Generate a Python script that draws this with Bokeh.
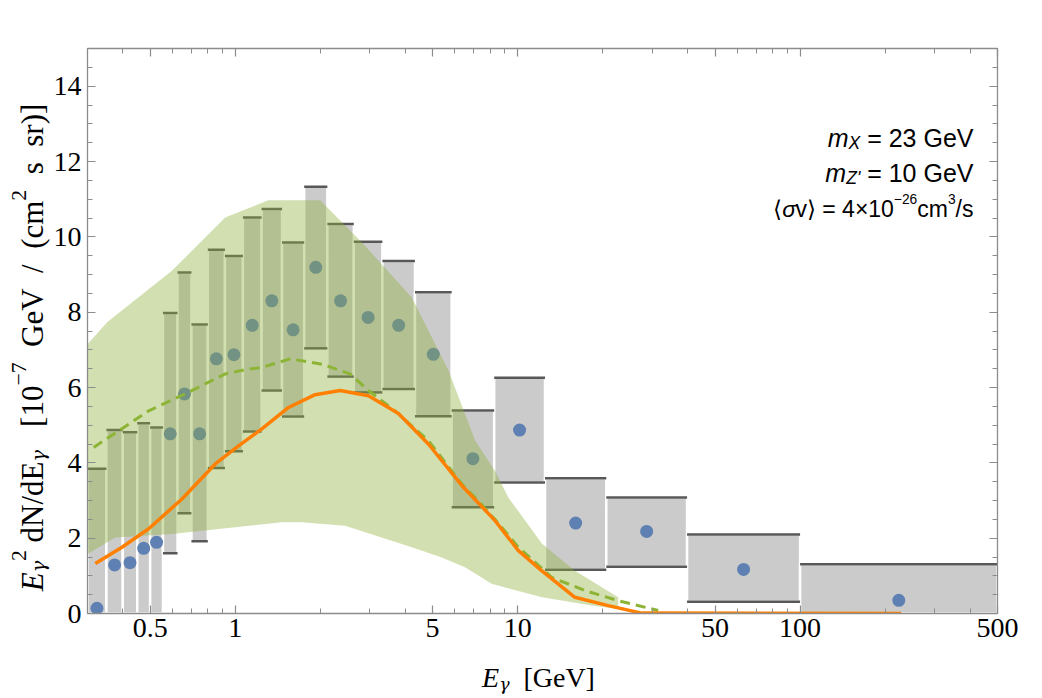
import math
from bokeh.plotting import figure
from bokeh.layouts import row, column
from bokeh.models import (FixedTicker, LogAxis, LinearAxis, Label, CustomJSTickFormatter)
from bokeh.embed import file_html
from bokeh.resources import INLINE

# ---------------- data ----------------
bin_edges = [0.30, 0.35, 0.40, 0.45, 0.50, 0.555, 0.625, 0.70, 0.80, 0.92, 1.065, 1.24,
             1.465, 1.755, 2.12, 2.63, 3.32, 4.33, 5.84, 8.26, 12.5, 20.6, 39.8, 100.0, 500.0]
flux = [0.14, 1.29, 1.35, 1.73, 1.89, 4.77, 5.83, 4.77, 6.76, 6.87, 7.65, 8.30,
        7.53, 9.19, 8.30, 7.86, 7.65, 6.88, 4.11, 4.87, 2.40, 2.18, 1.17, 0.35]
flux_hi = [3.84, 4.87, 4.81, 5.05, 4.94, 7.98, 9.05, 7.67, 9.66, 9.49, 10.51, 10.74,
           9.85, 11.33, 10.34, 9.87, 9.36, 8.53, 5.39, 6.26, 3.59, 3.08, 2.10, 1.31]
flux_lo = [0.0, 0.0, 0.0, 0.0, 0.0, 1.60, 2.66, 1.92, 3.86, 4.31, 4.83, 5.92,
           5.23, 7.04, 6.29, 5.87, 5.96, 5.24, 2.82, 3.48, 1.16, 1.24, 0.31, 0.0]

band_up_E = [0.30, 0.352, 0.597, 0.922, 1.31, 2.00, 2.81, 4.22, 5.69, 7.07, 8.31, 9.27, 12.2, 15.9, 22.7]
band_up = [7.15, 7.73, 9.10, 10.51, 10.97, 10.97, 9.85, 8.39, 6.45, 4.59, 3.79, 3.08, 1.85, 1.14, 0.43]
band_lo_E = [0.30, 0.376, 0.597, 1.46, 1.72, 2.45, 4.22, 5.39, 6.51, 8.09, 12.2, 18.3, 22.7]
band_lo = [1.58, 2.02, 2.11, 2.42, 2.42, 2.33, 1.76, 1.49, 1.23, 0.79, 0.43, 0.21, 0.12]

dash_E = [0.3155, 0.387, 0.494, 0.665, 0.922, 1.115, 1.243, 1.565, 2.026, 2.552, 2.964,
          3.681, 4.832, 6.338, 7.063, 8.31, 10.06, 13.19, 17.30, 22.71, 31.45]
dash_v = [4.41, 4.85, 5.38, 5.83, 6.36, 6.49, 6.53, 6.76, 6.62, 6.36, 5.92,
          5.38, 4.59, 3.44, 3.08, 2.50, 1.76, 0.96, 0.61, 0.34, 0.08]

model_E = [0.3197, 0.3974, 0.494, 0.648, 0.850, 1.028, 1.243, 1.545, 1.919, 2.352, 2.964,
           3.784, 4.832, 6.338, 8.31, 10.06, 12.16, 15.95, 20.93, 27.46, 228.0]
model_v = [1.33, 1.76, 2.25, 3.04, 3.97, 4.45, 4.90, 5.47, 5.81, 5.92, 5.78,
           5.31, 4.50, 3.40, 2.47, 1.67, 1.14, 0.43, 0.21, 0.01, 0.0]

x_major = [0.5, 1, 5, 10, 50, 100, 500]
x_minor = [0.3, 0.4, 0.6, 0.7, 0.8, 0.9, 2, 3, 4, 6, 7, 8, 9, 20, 30, 40, 60, 70, 80, 90, 200, 300, 400]
y_major = [0, 2, 4, 6, 8, 10, 12, 14]
y_minor = [v * 0.5 for v in range(0, 31)]

# ---------------- layout geometry ----------------
W, H = 1042, 698
YW = 50          # strip for the y label
XH = 45          # strip for the x label
MW, MH = W - YW, H - XH
FL, FR, FT, FB = 85, 997, 48, 613   # frame edges on the page

p = figure(width=MW, height=MH, x_axis_type="log", x_range=(0.3, 500), y_range=(0, 15),
           output_backend="svg", toolbar_location=None,
           min_border_left=FL - YW, min_border_right=W - FR, min_border_top=FT, min_border_bottom=MH - FB)
p.xgrid.visible = False
p.ygrid.visible = False
p.outline_line_color = None

lefts = bin_edges[:-1]
rights = bin_edges[1:]
centers = [math.sqrt(a * b) for a, b in zip(lefts, rights)]

p.quad(left=lefts, right=rights, top=flux_hi, bottom=flux_lo,
       fill_color="#cbcbcb", line_color="white", line_width=2.5)
p.segment(x0=lefts, x1=rights, y0=flux_hi, y1=flux_hi, line_color="#585858", line_width=2.5)
lo_idx = [i for i, v in enumerate(flux_lo) if v > 0]
p.segment(x0=[lefts[i] for i in lo_idx], x1=[rights[i] for i in lo_idx],
          y0=[flux_lo[i] for i in lo_idx], y1=[flux_lo[i] for i in lo_idx],
          line_color="#585858", line_width=2.5)
p.scatter(x=centers, y=flux, size=13, fill_color="#5f80b2", line_color=None)

p.patch(x=band_up_E + band_lo_E[::-1], y=band_up + band_lo[::-1],
        fill_color=(143, 176, 59), fill_alpha=0.4, line_color=None)

p.line(dash_E, dash_v, line_color="#8db435", line_width=3, line_dash="10 6")
p.line(model_E, model_v, line_color="#ff8000", line_width=3.5)

# ---------------- axes ----------------
xt = FixedTicker(ticks=x_major, minor_ticks=x_minor)
yt = FixedTicker(ticks=y_major, minor_ticks=y_minor)
fmt = CustomJSTickFormatter(code="return tick.toString()")


def style(ax, show):
    ax.axis_line_color = "#8c8c8c"
    ax.axis_line_width = 1.3
    ax.major_tick_line_color = "#8c8c8c"
    ax.minor_tick_line_color = "#8c8c8c"
    ax.major_tick_line_width = 1.2
    ax.minor_tick_line_width = 1.0
    ax.major_tick_in = 8
    ax.major_tick_out = 0
    ax.minor_tick_in = 5
    ax.minor_tick_out = 0
    if show:
        ax.major_label_text_font = "Liberation Serif"
        ax.major_label_text_font_size = "28px"
        ax.major_label_text_color = "black"
    else:
        ax.major_label_text_color = None
        ax.major_label_text_font_size = "8px"


xa = p.xaxis[0]
xa.ticker = xt
xa.formatter = fmt
xa.major_label_standoff = 5
style(xa, True)
ya = p.yaxis[0]
ya.ticker = yt
ya.major_label_standoff = 6
style(ya, True)

top = LogAxis(ticker=xt, formatter=fmt)
style(top, False)
p.add_layout(top, "above")
right = LinearAxis(ticker=yt)
style(right, False)
p.add_layout(right, "right")


# ---------------- label strips ----------------
def strip(w, h):
    f = figure(width=w, height=h, x_range=(0, 1), y_range=(0, 1), x_axis_location=None,
               y_axis_location=None, toolbar_location=None, output_backend="svg", min_border=0)
    f.grid.visible = False
    f.outline_line_color = None
    return f


yfig = strip(YW, MH)
xfig = strip(W, XH)

WIDTHS = {
    "Liberation Serif": {' ': 250, '\u00a0': 250, 'E': 611, 'd': 500, 'N': 722, '/': 278, '[': 333,
                         ']': 333, '0': 500, '1': 500, '2': 500, '7': 500, '\u2212': 564, 'G': 722,
                         'e': 444, 'V': 722, '(': 333, ')': 333, 'c': 444, 'm': 778, 's': 389, 'r': 333},
    "DejaVu Serif": {'\u03b3': 590},
    "Liberation Sans": {' ': 278, '=': 584, '0': 556, '1': 556, '2': 556, '3': 556,
                        '4': 556, '6': 556, 'G': 778, 'e': 556, 'V': 667, 'm': 833, 'X': 667, 'Z': 611,
                        "'": 191, '\u27e8': 390, '\u27e9': 390, '\u03c3': 570, 'v': 500, '\u00d7': 584,
                        '\u2212': 584, 'c': 500, '/': 278, 's': 500},
}

# (figure, page x of its frame's left edge, page y of its frame's bottom edge)
MAIN = (p, FL, FB)
YSTRIP = (yfig, 0, FB)      # frames of a row are aligned with the main frame
XSTRIP = (xfig, 0, H)


def tw(text, font, size):
    table = WIDTHS[font]
    return sum(table.get(ch, 500) for ch in text) / 1000.0 * size


def put(where, text, cx, cy, font, size, style="normal", angle=0.0):
    fig, ox, oy = where
    fig.add_layout(Label(x=cx - ox, y=oy - cy, x_units="screen", y_units="screen", text=text,
                         text_font=font, text_font_size="%.1fpx" % size, text_font_style=style,
                         text_color="black", angle=angle, text_align="left",
                         text_baseline="alphabetic"))


def run_h(where, pieces, size, baseline, x_right=None, x_center=None):
    widths = [tw(t, f, size * rs) for (t, f, st, rs, sh) in pieces]
    total = sum(widths)
    x = x_right - total if x_right is not None else x_center - total / 2
    for (t, f, st, rs, sh), w in zip(pieces, widths):
        lead = tw(t[:len(t) - len(t.lstrip())], f, size * rs)
        put(where, t.strip(), x + lead, baseline - sh * size, f, size * rs, st)
        x += w


def run_v(where, pieces, size, baseline_x, y_center):
    widths = [tw(t, f, size * rs) for (t, f, st, rs, sh) in pieces]
    total = sum(widths)
    y = y_center + total / 2
    for (t, f, st, rs, sh), w in zip(pieces, widths):
        lead = tw(t[:len(t) - len(t.lstrip())], f, size * rs)
        put(where, t.strip(), baseline_x - sh * size, y - lead, f, size * rs, st, angle=math.pi / 2)
        y -= w


SERIF = "Liberation Serif"
GREEK = "DejaVu Serif"
SANS = "Liberation Sans"
NB = "\u00a0"

ylabel = [("E", SERIF, "italic", 1.0, 0), ("\u03b3", GREEK, "italic", 0.62, -0.2),
          ("2", SERIF, "normal", 0.7, 0.45), (NB + "dN/dE", SERIF, "normal", 1.0, 0),
          ("\u03b3", GREEK, "italic", 0.62, -0.2), (NB * 3 + "[10", SERIF, "normal", 1.0, 0),
          ("\u22127", SERIF, "normal", 0.7, 0.45),
          (NB * 2 + "GeV" + NB * 2 + "/" + NB * 2 + "(cm", SERIF, "normal", 1.0, 0),
          ("2", SERIF, "normal", 0.7, 0.45), (NB * 2 + "s" + NB * 2 + "sr)]", SERIF, "normal", 1.0, 0)]
run_v(YSTRIP, ylabel, 31, 32, 347)

xlabel = [("E", SERIF, "italic", 1.0, 0), ("\u03b3", GREEK, "italic", 0.62, -0.22),
          (NB * 2 + "[GeV]", SERIF, "normal", 1.0, 0)]
run_h(XSTRIP, xlabel, 28, 677, x_center=538)

line1 = [("m", SANS, "italic", 1.0, 0), ("X", SANS, "italic", 0.7, -0.22), (" = 23 GeV", SANS, "normal", 1.0, 0)]
line2 = [("m", SANS, "italic", 1.0, 0), ("Z'", SANS, "italic", 0.7, -0.22), (" = 10 GeV", SANS, "normal", 1.0, 0)]
line3 = [("\u27e8", SANS, "normal", 1.0, 0), ("\u03c3", SANS, "italic", 1.0, 0),
         ("v\u27e9 = 4\u00d710", SANS, "normal", 1.0, 0),
         ("\u221226", SANS, "normal", 0.6, 0.42), ("cm", SANS, "normal", 1.0, 0),
         ("3", SANS, "normal", 0.6, 0.42), ("/s", SANS, "normal", 1.0, 0)]
run_h(MAIN, line1, 25, 137, x_right=971)
run_h(MAIN, line2, 25, 172, x_right=971)
run_h(MAIN, line3, 23, 208, x_right=971)

layout = column(row(yfig, p), xfig)
open("out.html", "w").write(file_html(layout, INLINE))
